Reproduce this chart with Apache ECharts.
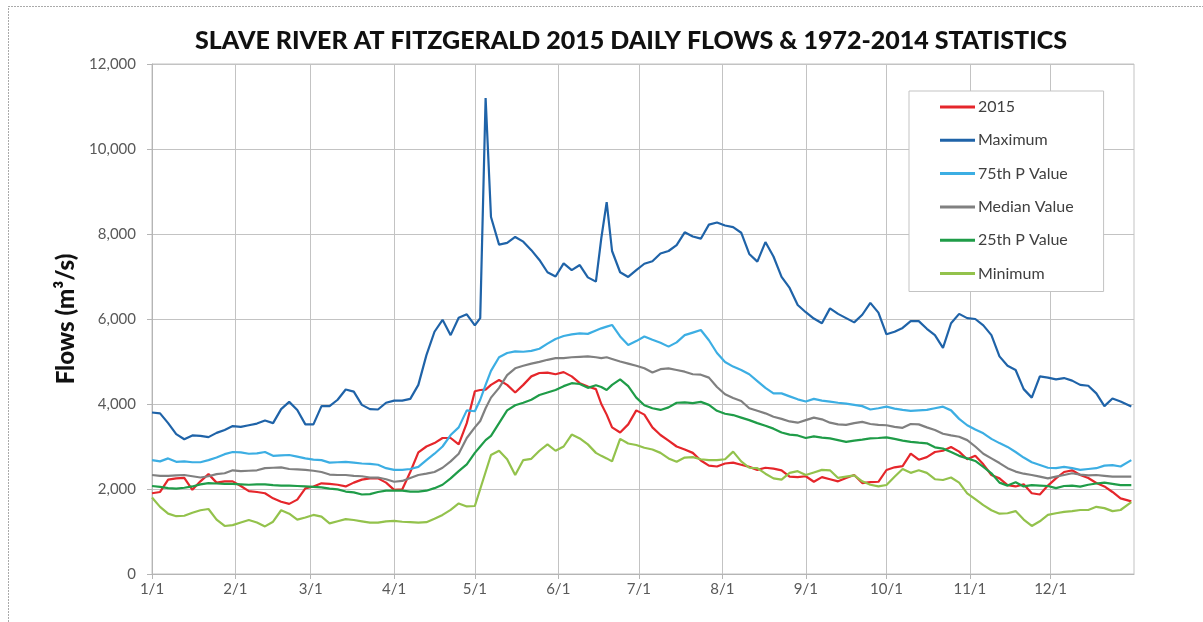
<!DOCTYPE html>
<html>
<head>
<meta charset="utf-8">
<script src="https://cdn.jsdelivr.net/npm/echarts@6/dist/echarts.min.js"></script>
<style>
  html, body { margin: 0; padding: 0; background: #fff; }
  #chart { width: 1203px; height: 622px; }
</style>
</head>
<body>
<div id="chart"></div>
<script>
// day of year (0 = Jan 1), sampled roughly every 3 days, denser near the peaks
var days = [
  0, 3, 6, 9, 12, 15, 18, 21, 24, 27,
  30, 33, 36, 39, 42, 45, 48, 51, 54, 57,
  60, 63, 66, 69, 72, 75, 78, 81, 84, 87,
  90, 93, 96, 99, 102, 105, 108, 111, 114, 117,
  120, 122, 124, 126, 129, 132, 135, 138, 141, 144,
  147, 150, 153, 156, 159, 162, 165, 167, 169, 171,
  174, 177, 180, 183, 186, 189, 192, 195, 198, 201,
  204, 207, 210, 213, 216, 219, 222, 225, 228, 231,
  234, 237, 240, 243, 246, 249, 252, 255, 258, 261,
  264, 267, 270, 273, 276, 279, 282, 285, 288, 291,
  294, 297, 300, 303, 306, 309, 312, 315, 318, 321,
  324, 327, 330, 333, 336, 339, 342, 345, 348, 351,
  354, 357, 360, 364
]

var monthStarts = [0, 31, 59, 90, 120, 151, 181, 212, 243, 273, 304, 334]
var monthLabels = ['1/1', '2/1', '3/1', '4/1', '5/1', '6/1', '7/1', '8/1', '9/1', '10/1', '11/1', '12/1']

var flow2015 = [
  1900, 1930, 2220, 2250, 2260, 1980, 2180, 2350, 2150, 2180,
  2180, 2070, 1950, 1930, 1900, 1780, 1700, 1650, 1750, 2016,
  2060, 2134, 2120, 2100, 2060, 2150, 2220, 2250, 2250, 2150,
  1980, 1990, 2400, 2860, 3000, 3080, 3200, 3200, 3050, 3550,
  4300, 4330, 4340, 4450, 4565, 4450, 4270, 4450, 4650, 4730,
  4740, 4700, 4750, 4650, 4490, 4410, 4350, 4000, 3750, 3450,
  3330, 3520, 3850, 3750, 3450, 3271, 3140, 3000, 2930, 2850,
  2670, 2550, 2530, 2600, 2620, 2570, 2520, 2450, 2500, 2480,
  2440, 2290, 2280, 2300, 2170, 2280, 2230, 2180, 2260, 2330,
  2140, 2160, 2170, 2447, 2510, 2540, 2830, 2690, 2750, 2870,
  2900, 2990, 2880, 2700, 2780, 2580, 2330, 2250, 2090, 2060,
  2110, 1900, 1870, 2080, 2250, 2400, 2440, 2330, 2260, 2140,
  2060, 1930, 1780, 1710
]

var maximum = [
  3800, 3780, 3550, 3290, 3170, 3260, 3250, 3220, 3320, 3390,
  3480, 3460, 3500, 3540, 3610, 3550, 3880, 4050, 3860, 3520,
  3520, 3950, 3950, 4100, 4340, 4290, 3980, 3880, 3870, 4030,
  4080, 4080, 4120, 4450, 5150, 5700, 5980, 5620, 6030, 6110,
  5850, 6020, 11200, 8400, 7750, 7790, 7930, 7820, 7620, 7390,
  7100, 7000, 7310, 7150, 7270, 6980, 6880, 7900, 8750, 7600,
  7100, 6990, 7150, 7300, 7360, 7540, 7600, 7740, 8040, 7940,
  7890, 8220, 8270, 8200, 8160, 8030, 7530, 7350, 7810, 7470,
  6990, 6730, 6330, 6160, 6010, 5900, 6250, 6120, 6020, 5920,
  6100, 6380, 6150, 5640, 5700, 5790, 5950, 5950, 5770, 5620,
  5320, 5900, 6120, 6020, 6000, 5850, 5620, 5120, 4900, 4800,
  4350, 4150, 4650, 4620, 4580, 4610, 4550, 4450, 4430, 4250,
  3950, 4130, 4060, 3940
]

var p75 = [
  2680, 2650, 2720, 2640, 2650, 2630, 2630, 2680, 2740, 2820,
  2870, 2860, 2830, 2840, 2870, 2780, 2790, 2800, 2760, 2720,
  2690, 2680, 2620, 2630, 2640, 2620, 2600, 2590, 2570, 2490,
  2450, 2450, 2470, 2520, 2680, 2830, 3000, 3270, 3450, 3850,
  3830, 4100, 4450, 4780, 5100, 5200, 5240, 5230, 5250, 5300,
  5420, 5530, 5600, 5640, 5660, 5650, 5730, 5780, 5820, 5860,
  5590, 5390, 5480, 5590, 5510, 5440, 5350, 5450, 5620, 5680,
  5740, 5500, 5200, 4990, 4880, 4800, 4700, 4540, 4380, 4250,
  4250, 4180, 4110, 4060, 4120, 4080, 4056, 4030, 4010, 3980,
  3950, 3870, 3900, 3937, 3890, 3860, 3840, 3850, 3860, 3900,
  3937, 3850, 3650, 3500, 3400, 3310, 3180, 3080, 2990, 2870,
  2740, 2630, 2565, 2500, 2490, 2520, 2490, 2450, 2470, 2490,
  2550, 2560, 2530, 2680
]

var median = [
  2330, 2310, 2310, 2320, 2330, 2300, 2270, 2300, 2350, 2370,
  2440, 2420, 2430, 2440, 2490, 2500, 2510, 2470, 2460, 2450,
  2430, 2400, 2340, 2330, 2330, 2310, 2300, 2270, 2270, 2230,
  2170, 2190, 2260, 2330, 2360, 2400, 2500, 2650, 2830, 3200,
  3450, 3600, 3900, 4150, 4380, 4680, 4840, 4900, 4950, 4990,
  5040, 5080, 5080, 5100, 5110, 5120, 5100, 5080, 5100, 5060,
  5000, 4950, 4900, 4840, 4740, 4820, 4840, 4800, 4760, 4700,
  4690, 4620, 4400, 4230, 4140, 4070, 3900, 3840, 3780, 3700,
  3650, 3590, 3560, 3620, 3680, 3640, 3560, 3520, 3510, 3550,
  3580, 3530, 3510, 3500, 3460, 3440, 3530, 3520, 3450, 3390,
  3300, 3260, 3230, 3150, 3000, 2830, 2720, 2610, 2490, 2410,
  2360, 2330, 2290, 2250, 2290, 2330, 2370, 2340, 2320, 2330,
  2310, 2290, 2290, 2290
]

var p25 = [
  2070, 2050, 2020, 2010, 2030, 2060, 2110, 2140, 2130, 2120,
  2120, 2110, 2100, 2110, 2110, 2090, 2080, 2080, 2070, 2060,
  2050, 2040, 2010, 1990, 1940, 1920, 1870, 1880, 1930, 1960,
  1960, 1960, 1940, 1940, 1960, 2020, 2100, 2250, 2420, 2580,
  2850, 3000, 3150, 3250, 3550, 3850, 3970, 4030, 4100, 4210,
  4270, 4330, 4420, 4490, 4470, 4380, 4440, 4400, 4330, 4450,
  4580, 4420, 4150, 3970, 3900, 3860, 3920, 4030, 4040, 4020,
  4050, 3980, 3840, 3770, 3740, 3680, 3620, 3550, 3490, 3420,
  3330, 3280, 3260, 3200, 3240, 3210, 3190, 3150, 3110, 3140,
  3160, 3190, 3200, 3216, 3180, 3140, 3110, 3090, 3075, 2980,
  2950, 2870, 2780, 2720, 2660, 2520, 2370, 2150, 2080, 2160,
  2060, 2090, 2080, 2070, 2020, 2070, 2080, 2055, 2100, 2130,
  2150, 2120, 2090, 2090
]

var minimum = [
  1800, 1580, 1420, 1360, 1370, 1440, 1500, 1530, 1280, 1130,
  1150, 1210, 1270, 1210, 1120, 1230, 1500, 1420, 1280, 1330,
  1390, 1350, 1190, 1240, 1290, 1270, 1240, 1210, 1210, 1240,
  1250, 1230, 1220, 1210, 1220, 1300, 1390, 1510, 1660, 1590,
  1600, 2000, 2400, 2800, 2900, 2700, 2330, 2680, 2710, 2900,
  3050, 2900, 3000, 3280, 3190, 3050, 2850, 2780, 2720, 2650,
  3180, 3070, 3035, 2970, 2930, 2850, 2720, 2640, 2740, 2750,
  2700, 2680, 2680, 2700, 2880, 2650, 2500, 2490, 2360, 2250,
  2220, 2380, 2420, 2330, 2390, 2450, 2440, 2260, 2290, 2320,
  2180, 2100, 2060, 2094, 2290, 2470, 2380, 2440, 2380, 2230,
  2212, 2270, 2150, 1898, 1760, 1620, 1500, 1420, 1430, 1480,
  1280, 1130, 1240, 1390, 1430, 1460, 1480, 1506, 1506, 1580,
  1550, 1480, 1506, 1690
]

var seriesNames = ['2015', 'Maximum', '75th P Value', 'Median Value', '25th P Value', 'Minimum']
var seriesColors = ['#e5262b', '#1f63a8', '#3caee3', '#808080', '#1f9c48', '#93c24c']
var seriesValues = [flow2015, maximum, p75, median, p25, minimum]

function toPairs(values) {
  return days.map(function (d, i) { return [d, values[i]] })
}

var chart = echarts.init(document.getElementById('chart'))

var series = seriesNames.map(function (name, i) {
  return {
    name: name,
    type: 'line',
    data: toPairs(seriesValues[i]),
    showSymbol: false,
    symbol: 'none',
    smooth: false,
    itemStyle: { color: seriesColors[i] },
    lineStyle: { color: seriesColors[i], width: 2.2 }
  }
})

var option = {
  animation: false,
  backgroundColor: '#ffffff',
  title: {
    text: 'SLAVE RIVER AT FITZGERALD 2015 DAILY FLOWS & 1972-2014 STATISTICS',
    left: 190,
    top: 23,
    textStyle: {
      fontFamily: 'Lato',
      fontSize: 25,
      fontWeight: 900,
      color: '#111'
    }
  },
  legend: {
    orient: 'vertical',
    left: 909,
    top: 91,
    padding: [8, 30, 10, 31],
    borderColor: '#c3c3c3',
    borderWidth: 1,
    backgroundColor: '#fff',
    itemWidth: 35,
    itemHeight: 3,
    itemGap: 17.3,
    icon: 'rect',
    data: seriesNames,
    textStyle: {
      fontFamily: 'Lato',
      fontSize: 16,
      lineHeight: 16,
      color: '#404040',
      padding: [0, 0, 0, -2]
    }
  },
  grid: {
    left: 152,
    right: 69,
    top: 64,
    bottom: 48,
    show: true,
    borderColor: '#c3c3c3',
    borderWidth: 1
  },
  xAxis: {
    type: 'value',
    min: 0,
    max: 365,
    axisLine: { show: true, lineStyle: { color: '#b5b5b5', width: 1 } },
    axisTick: { show: true, length: 5, customValues: monthStarts, lineStyle: { color: '#b5b5b5' } },
    splitLine: { show: true, lineStyle: { color: '#c3c3c3', width: 1 } },
    axisLabel: {
      customValues: monthStarts,
      margin: 8,
      fontFamily: 'Lato',
      fontSize: 15,
      color: '#595959',
      formatter: function (v) {
        var idx = monthStarts.indexOf(v)
        return idx >= 0 ? monthLabels[idx] : ''
      }
    }
  },
  yAxis: {
    type: 'value',
    min: 0,
    max: 12000,
    interval: 2000,
    name: 'Flows (m³/s)',
    nameLocation: 'middle',
    nameRotate: 90,
    nameGap: 63,
    nameTextStyle: {
      fontFamily: 'Lato',
      fontSize: 24,
      fontWeight: 900,
      color: '#111'
    },
    axisLine: { show: true, lineStyle: { color: '#b5b5b5', width: 1 } },
    axisTick: { show: true, length: 5, lineStyle: { color: '#b5b5b5' } },
    splitLine: { show: true, lineStyle: { color: '#c3c3c3', width: 1 } },
    axisLabel: {
      margin: 16,
      fontFamily: 'Lato',
      fontSize: 15,
      color: '#595959',
      formatter: function (v) { return v.toLocaleString('en-US') }
    }
  },
  graphic: [
    {
      type: 'rect',
      silent: true,
      shape: { x: 8.5, y: 6.5, width: 1220, height: 700 },
      style: { fill: 'none', stroke: '#555', lineWidth: 1, lineDash: [1, 2] }
    }
  ],
  series: series
}

chart.setOption(option)
</script>
</body>
</html>
